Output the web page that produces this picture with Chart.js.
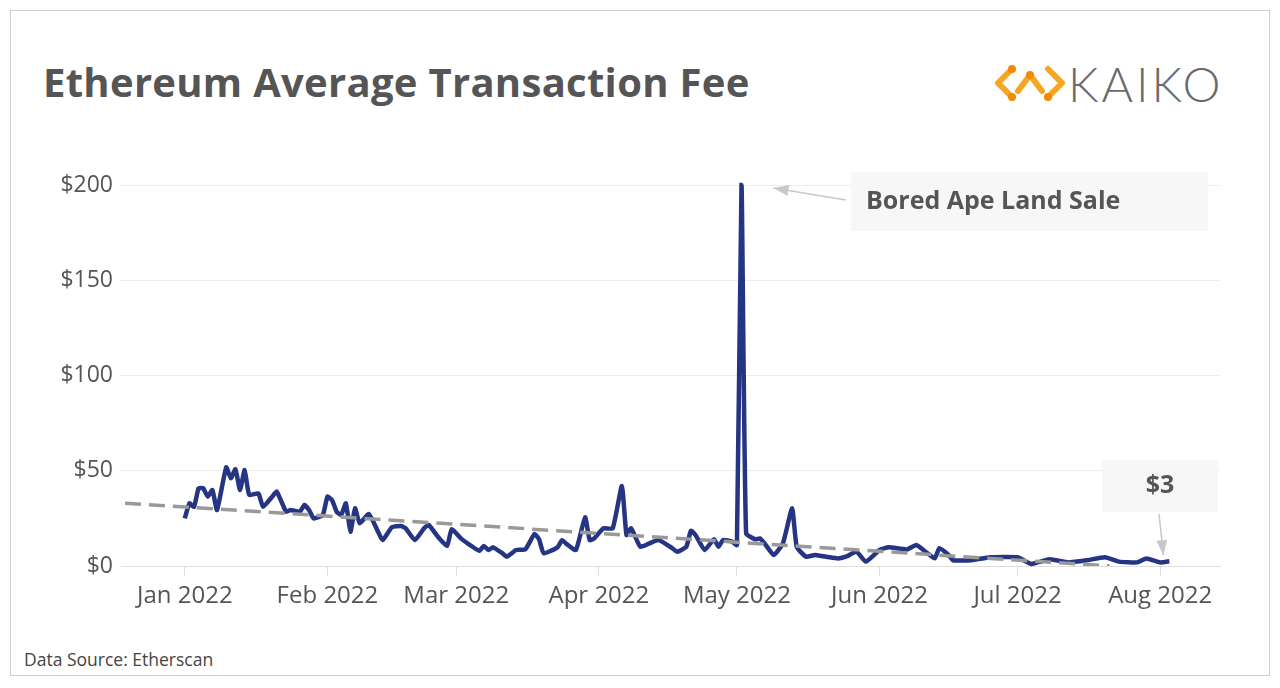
<!DOCTYPE html>
<html>
<head>
<meta charset="utf-8">
<script src="https://cdn.jsdelivr.net/npm/chart.js@4"></script>
<style>
  html, body { margin: 0; padding: 0; background: #fff; }
  body { width: 1280px; height: 688px; position: relative; overflow: hidden; font-family: "Open Sans", sans-serif; }
  .frame { position: absolute; left: 10px; top: 10px; width: 1258px; height: 664px; border: 1px solid #cfcfcf; }
  h1 { position: absolute; left: 43px; top: 54px; margin: 0; font-size: 40px; font-weight: 700; color: #555; letter-spacing: 0.3px; }
  .logo { position: absolute; left: 994px; top: 60px; height: 46px; display: flex; align-items: center; }
  .logo span { font-family: "Lato", sans-serif; font-weight: 300; font-size: 48px; color: #6b6b6b; letter-spacing: 3px; margin-left: 2px; }
  .src { position: absolute; left: 24px; top: 647px; font-size: 17.5px; color: #444; }
  canvas { position: absolute; left: 0; top: 0; }
</style>
</head>
<body>
<div class="frame"></div>
<h1>Ethereum Average Transaction Fee</h1>
<div class="logo">
  <svg width="72" height="40" viewBox="0 0 72 40">
    <g fill="none" stroke="#f5a623" stroke-width="6" stroke-linecap="round" stroke-linejoin="round">
      <polyline points="18,6 4,20 18,34"/>
      <polyline points="24,28 36,12 48,28"/>
      <polyline points="54,6 68,20 54,34"/>
    </g>
    <circle cx="18" cy="6" r="4" fill="#f08a00"/>
    <circle cx="18" cy="34" r="4" fill="#f08a00"/>
    <circle cx="36" cy="12" r="4" fill="#f08a00"/>
    <circle cx="54" cy="34" r="4" fill="#f08a00"/>
  </svg>
  <span>KAIKO</span>
</div>
<div class="src">Data Source: Etherscan</div>
<canvas id="c" width="1280" height="688"></canvas>
<script>
// days since 1 Jan 2022
const days = [0,1,2,3,4,5,6,7,9,10,11,12,13,14,16,17,19,20,22,23,25,26,27,28,30,31,32,33,34,35,36,37,38,40,42,43,45,47,48,50,52,53,55,57,58,60,62,64,65,66,67,69,70,72,74,76,77,78,81,82,83,85,87,88,89,91,93,95,96,97,99,101,103,106,107,109,110,111,113,115,116,117,119,120,121,122,124,125,126,128,130,132,133,135,137,140,142,144,146,148,151,153,157,159,161,163,164,166,167,171,175,181,184,188,192,196,200,203,207,209,212,214];
const fees = [25,32.9,31.1,40.8,40.8,36.4,39.9,29.4,51.8,46,50.8,39.9,50.4,37.3,38.1,31.1,36.4,39,28.5,29.4,28.5,32,29.4,25,26.8,36.4,34.6,28.5,26.8,32.9,18,30.3,22.4,27.3,18,13.6,20.3,21,19.8,13.6,19.8,21.5,15.4,10.5,19.3,14.5,11,8,10.5,8.4,9.8,6.7,4.9,8.4,8.7,16.8,14,6.7,9.8,13.6,11.5,8.4,25.6,13.6,14.5,19.8,19.8,42,16.3,19.8,10.1,11.9,13.6,9.3,7.5,10.1,18.5,16.3,8.4,14,10.1,13.6,12.8,11,200,17.1,14,14.5,11.9,5.8,11.9,30.3,10.1,4.9,5.8,4.6,4,5.2,7.5,2.3,8.4,9.8,8.7,11,7.5,4,9.3,5.8,3,3,4.6,4.6,1.1,3.5,1.9,3,4.6,2.3,1.9,4,1.9,2.5];
const trendDays = [-13, 201];
const trendFees = [33, 0];
const monthDays = [0, 31, 59, 90, 120, 151, 181, 212];
const monthLabels = ["Jan 2022", "Feb 2022", "Mar 2022", "Apr 2022", "May 2022", "Jun 2022", "Jul 2022", "Aug 2022"];
const yTicks = [0, 50, 100, 150, 200];

const notes = {
  id: "notes",
  afterDraw(chart) {
    const ctx = chart.ctx, xs = chart.scales.x, ys = chart.scales.y;
    const arrow = (x1, y1, x2, y2) => {
      ctx.save();
      ctx.strokeStyle = "#c8c8c8"; ctx.fillStyle = "#c8c8c8"; ctx.lineWidth = 1.5;
      ctx.beginPath(); ctx.moveTo(x1, y1); ctx.lineTo(x2, y2); ctx.stroke();
      const a = Math.atan2(y2 - y1, x2 - x1);
      ctx.beginPath(); ctx.moveTo(x2, y2);
      ctx.lineTo(x2 - 16 * Math.cos(a - 0.35), y2 - 16 * Math.sin(a - 0.35));
      ctx.lineTo(x2 - 16 * Math.cos(a + 0.35), y2 - 16 * Math.sin(a + 0.35));
      ctx.closePath(); ctx.fill();
      ctx.restore();
    };
    const box = (x, y, w, h, txt, tx) => {
      ctx.save();
      ctx.fillStyle = "#f7f7f7"; ctx.fillRect(x, y, w, h);
      ctx.fillStyle = "#555"; ctx.font = "700 25px 'Open Sans'";
      ctx.textAlign = tx ? "left" : "center"; ctx.textBaseline = "middle";
      ctx.fillText(txt, tx || x + w / 2, y + h / 2);
      ctx.restore();
    };
    const pi = fees.indexOf(200);
    box(851, 172, 357, 59, "Bored Ape Land Sale", 866);
    arrow(846, 200, xs.getPixelForValue(days[pi]) + 32, ys.getPixelForValue(200) + 3);
    const li = days.length - 1;
    box(1102, 460, 116, 52, "$3");
    arrow(1159, 514, xs.getPixelForValue(days[li]) - 6, ys.getPixelForValue(fees[li]) - 6);
  }
};

new Chart(document.getElementById("c"), {
  type: "line",
  data: {
    datasets: [
      { data: trendDays.map((d, i) => ({ x: d, y: trendFees[i] })), borderColor: "#999", borderWidth: 3.5, borderDash: [16, 8], pointRadius: 0 },
      { data: days.map((d, i) => ({ x: d, y: fees[i] })), borderColor: "#253584", borderWidth: 4.5, pointRadius: 0, tension: 0.15, clip: false }
    ]
  },
  options: {
    responsive: false, animation: false,
    layout: { padding: { left: 0, top: 185, right: 60, bottom: 62 } },
    plugins: { legend: { display: false }, tooltip: { enabled: false } },
    scales: {
      x: {
        type: "linear", min: -13, max: 225,
        afterBuildTicks: s => { s.ticks = monthDays.map(v => ({ value: v })); },
        afterFit: s => { s.height = 60; },
        ticks: { callback: (v, i) => monthLabels[i], color: "#555", font: { family: "Open Sans", size: 24 }, padding: 6, maxRotation: 0, autoSkip: false },
        grid: { drawOnChartArea: false, tickLength: 10, color: "#ddd" },
        border: { color: "#ddd" }
      },
      y: {
        min: 0, max: 200,
        afterBuildTicks: s => { s.ticks = yTicks.map(v => ({ value: v })); },
        afterFit: s => { s.width = 125; },
        ticks: { callback: v => "$" + v, color: "#555", font: { family: "Open Sans", size: 23 }, padding: 6 },
        grid: { color: "#ececec", tickLength: 6 },
        border: { display: false }
      }
    }
  },
  plugins: [notes]
});
</script>
</body>
</html>
